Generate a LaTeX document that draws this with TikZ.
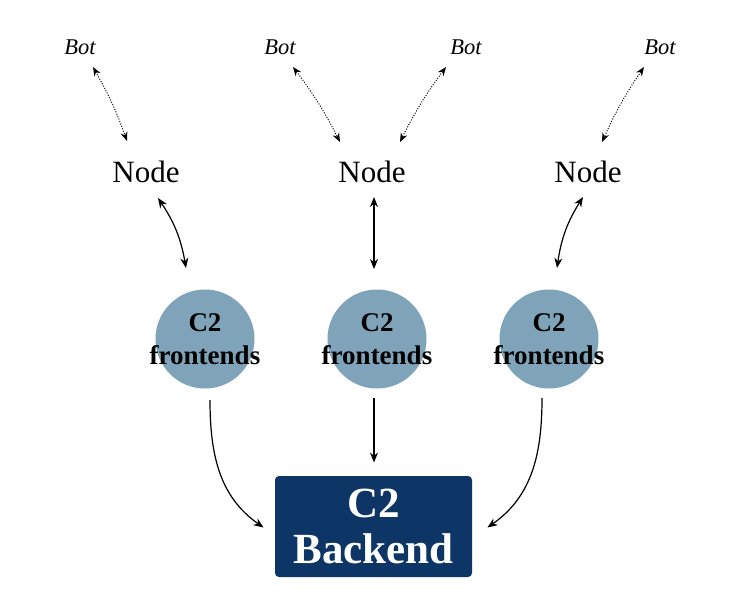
\documentclass[tikz,border=0pt]{standalone}
\usepackage{fontspec}
\setmainfont{Liberation Serif}
\usetikzlibrary{arrows.meta}
\definecolor{front}{HTML}{7FA3B8}
\definecolor{back}{HTML}{0D3667}
\begin{document}
\begin{tikzpicture}[x=1pt,y=-1pt,
  bot/.style={font=\fontsize{22.5}{25}\selectfont\itshape, inner sep=0pt},
  nd/.style={font=\fontsize{31}{36}\selectfont, inner sep=0pt},
  fe/.style={circle, fill=front, minimum size=99pt, inner sep=0pt},
  fetext/.style={align=center, inner sep=0pt, font=\fontsize{27}{33}\selectfont\bfseries},
  be/.style={rounded corners=4pt, fill=back, text=white, minimum width=197pt, minimum height=101pt, align=center, inner sep=0pt, font=\fontsize{43}{46}\selectfont\bfseries},
  dotlink/.style={dash pattern=on 1pt off 1.6pt, line width=1pt, {Stealth[length=9pt,width=7pt]}-{Stealth[length=9pt,width=7pt]}},
  twoway/.style={line width=1.2pt, {Stealth[length=10pt,width=8pt]}-{Stealth[length=10pt,width=8pt]}},
  oneway/.style={line width=1.2pt, -{Stealth[length=10pt,width=8pt]}}
]
\useasboundingbox (0,0) rectangle (738,599);
\fill[white] (0,0) rectangle (738,599);

\node[bot] (b1) at (80,47) {Bot};
\node[bot] (b2) at (280,47) {Bot};
\node[bot] (b3) at (466,47) {Bot};
\node[bot] (b4) at (660,47) {Bot};

\node[nd] (n1) at (146,172) {Node};
\node[nd] (n2) at (372,172) {Node};
\node[nd] (n3) at (588,172) {Node};

\node[fe, label={[fetext]center:{C2\\frontends}}] (c1) at (205,339) {};
\node[fe, label={[fetext]center:{C2\\frontends}}] (c2) at (377,339) {};
\node[fe, label={[fetext]center:{C2\\frontends}}] (c3) at (549,339) {};

\node[be] (be) at (373.5,526.5) {C2\\Backend};

\draw[dotlink] ([shift={(13,20)}]b1.center) to[bend left=5] ([shift={(-19,-31)}]n1.center);
\draw[dotlink] ([shift={(13,20)}]b2.center) to[bend left=5] ([shift={(-32,-30)}]n2.center);
\draw[dotlink] ([shift={(-20,20)}]b3.center) to[bend right=5] ([shift={(28,-30)}]n2.center);
\draw[dotlink] ([shift={(-16,20)}]b4.center) to[bend right=5] ([shift={(14,-30)}]n3.center);

\draw[twoway] ([shift={(12,26)}]n1.center) to[bend left=12] ([shift={(-19,-71)}]c1.center);
\draw[twoway] ([shift={(2,25)}]n2.center) -- ([shift={(-3,-70)}]c2.center);
\draw[twoway] ([shift={(-5,25)}]n3.center) to[bend right=12] ([shift={(8,-71)}]c3.center);

\draw[oneway] ([shift={(5,61)}]c1.center) to[out=-90,in=145] ([shift={(-110,1)}]be.center);
\draw[oneway] ([shift={(-3,59)}]c2.center) -- ([shift={(0.5,-64)}]be.center);
\draw[oneway] ([shift={(-7,59)}]c3.center) to[out=-90,in=35] ([shift={(114,1)}]be.center);
\end{tikzpicture}
\end{document}
